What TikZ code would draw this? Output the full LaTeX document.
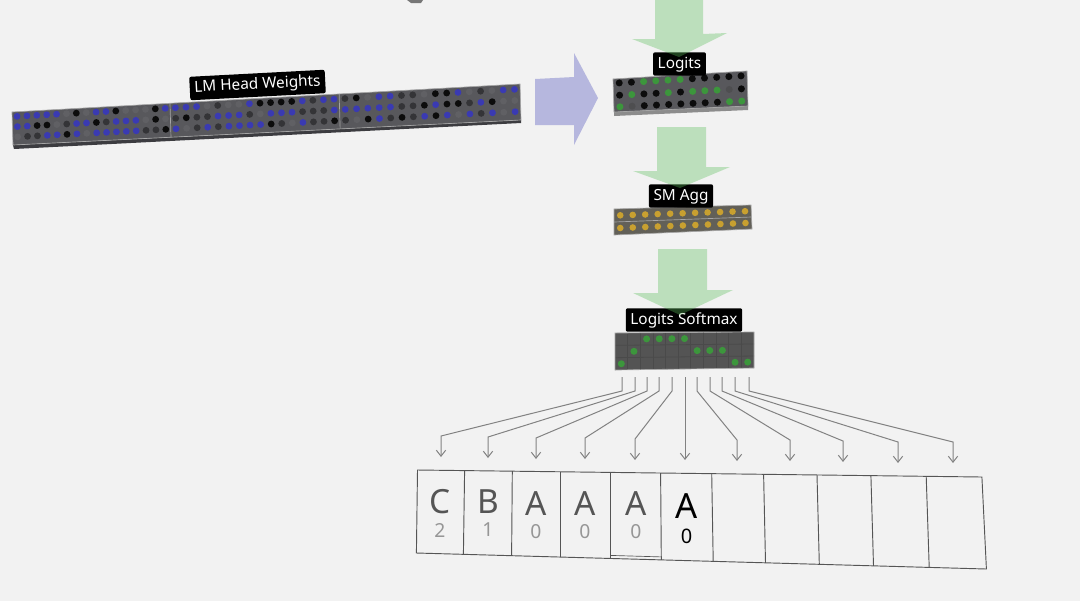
\documentclass[tikz,border=0pt]{standalone}
\usepackage{fontspec}
\setmainfont{Noto Sans}
\usetikzlibrary{arrows.meta,calc}
\definecolor{bg}{RGB}{242,242,242}
\definecolor{arrowgreen}{RGB}{90,190,90}
\definecolor{arrowblue}{RGB}{182,183,222}
\definecolor{matgray}{RGB}{88,88,92}
\definecolor{matside}{RGB}{60,60,64}
\definecolor{edgecol}{RGB}{165,165,165}
\definecolor{dotB}{RGB}{58,58,178}
\definecolor{dotK}{RGB}{12,12,12}
\definecolor{dotD}{RGB}{52,52,55}
\definecolor{dotM}{RGB}{96,96,100}
\definecolor{dotG}{RGB}{60,150,60}
\definecolor{dotX}{RGB}{78,78,80}
\definecolor{dotY}{RGB}{200,160,48}
\definecolor{aggfill}{RGB}{98,96,88}
\definecolor{smfill}{RGB}{84,84,84}
\definecolor{smgrid}{RGB}{74,74,74}
\definecolor{conncol}{RGB}{130,130,130}
\definecolor{boxline}{RGB}{85,85,85}
\definecolor{lettercol}{RGB}{85,85,85}
\definecolor{numcol}{RGB}{150,150,150}
\begin{document}
\begin{tikzpicture}[x=0.75pt,y=-0.75pt,
  lbl/.style={fill=black, text=white, rounded corners=1.5pt, inner xsep=3.5pt, inner ysep=3pt,
    text height=8.8pt, text depth=2.8pt, font=\fontsize{11.5}{13}\selectfont},
  garrow/.style={fill=arrowgreen, fill opacity=0.35},
  conn/.style={draw=conncol, line width=0.75pt, -{Straight Barb[length=4.5pt,width=7pt]}},
  edgeline/.style={draw=edgecol, line width=0.5pt},
  boxedge/.style={draw=boxline, line width=0.7pt},
  letter/.style={text=lettercol, font=\fontsize{25}{30}\selectfont, inner sep=0pt},
  digit/.style={text=numcol, font=\fontsize{14.5}{17}\selectfont, inner sep=0pt}
]
\fill[bg] (0,0) rectangle (1080,601);
\useasboundingbox (0,0) rectangle (1080,601);

% small cut-off shape at the top
\fill[black!65, opacity=0.8] (407,0) -- (423,0) -- (421,3) -- (411,3) -- cycle;

% ---------- LM Head Weights bar ----------
\coordinate (lmTL) at (12,112);
\coordinate (lmTR) at (520,84);
\coordinate (lmBR) at (521,120);
\coordinate (lmBL) at (13,145);
\fill[matside] (lmBL) -- (lmBR) -- ($(lmBR)+(0,3)$) -- ($(lmBL)+(1,4)$) -- cycle;
\fill[matgray] (lmTL) -- (lmTR) -- (lmBR) -- (lmBL) -- cycle;
\pgfmathsetseed{11}
\foreach \ua/\ub in {0/0.311, 0.311/0.644, 0.644/1} {
  \foreach \c in {0,...,15} {
    \foreach \v in {0.14,0.45,0.76} {
      \pgfmathsetmacro\u{\ua+(\c+0.5)/16*(\ub-\ua)}
      \pgfmathrandominteger{\k}{0}{9}
      \ifcase\k \def\dc{dotB}\or\def\dc{dotB}\or\def\dc{dotB}\or\def\dc{dotB}\or\def\dc{dotK}\or\def\dc{dotK}\or\def\dc{dotD}\or\def\dc{dotD}\or\def\dc{dotM}\else\def\dc{dotM}\fi
      \fill[\dc] ($($(lmTL)!\u!(lmTR)$)!\v!($(lmBL)!\u!(lmBR)$)$) circle (3.4);
    }
  }
}
\draw[edgeline] ($(lmTL)!0.311!(lmTR)$) -- ($(lmBL)!0.311!(lmBR)$);
\draw[edgeline] ($(lmTL)!0.644!(lmTR)$) -- ($(lmBL)!0.644!(lmBR)$);
\draw[edgeline] (lmTL) -- (lmTR) -- (lmBR) -- (lmBL) -- cycle;
\node[lbl, rotate=3] (lmlabel) at (257.5,85) {LM Head Weights};

% ---------- blue arrow ----------
\fill[arrowblue] (535,79) -- (574,77) -- (574,53) -- (598,98) -- (574,145) -- (574,125) -- (535,125) -- cycle;

% ---------- Logits matrix ----------
\coordinate (lgTL) at (613,79);
\coordinate (lgTR) at (747,71);
\coordinate (lgBR) at (748,106);
\coordinate (lgBL) at (614,112);
\fill[black!45] (lgBL) -- (lgBR) -- ($(lgBR)+(0,4)$) -- ($(lgBL)+(0,4)$) -- cycle;
\fill[matgray] (lgTL) -- (lgTR) -- (lgBR) -- (lgBL) -- cycle;
\foreach \v/\row in {0.13/{K,K,G,G,G,G,K,K,K,K,K}, 0.5/{K,G,K,K,G,K,G,G,G,X,K}, 0.85/{G,X,K,K,K,K,K,K,K,G,G}} {
  \foreach \col [count=\c from 0] in \row {
    \pgfmathsetmacro\u{(\c+0.5)/11}
    \fill[dot\col] ($($(lgTL)!\u!(lgTR)$)!\v!($(lgBL)!\u!(lgBR)$)$) circle (3.5);
  }
}
\draw[edgeline] (lgTL) -- (lgTR) -- (lgBR) -- (lgBL) -- cycle;
\node[lbl] (logitslabel) at (679.5,64) {Logits};
\fill[garrow] (655,0) -- (703,0) -- (703,34) -- (727,33) -- (679,57) -- (632,39) -- (655,39) -- cycle;

% ---------- SM Agg ----------
\coordinate (agTL) at (614,209);
\coordinate (agTR) at (751,205);
\coordinate (agBR) at (752,229);
\coordinate (agBL) at (614,235);
\fill[aggfill] (agTL) -- (agTR) -- (agBR) -- (agBL) -- cycle;
\draw[edgeline] ($(agTL)!0.5!(agBL)$) -- ($(agTR)!0.5!(agBR)$);
\foreach \v in {0.25,0.74} {
  \foreach \c in {0,...,10} {
    \pgfmathsetmacro\u{(\c+0.5)/11}
    \fill[dotY] ($($(agTL)!\u!(agTR)$)!\v!($(agBL)!\u!(agBR)$)$) circle (3.3);
  }
}
\draw[edgeline] (agTL) -- (agTR) -- (agBR) -- (agBL) -- cycle;
\node[lbl] (smagglabel) at (681,196) {SM Agg};
\fill[garrow] (657,127) -- (706,127) -- (706,167) -- (730,167) -- (680,188) -- (633,171) -- (657,171) -- cycle;

% ---------- Logits Softmax ----------
\coordinate (smTL) at (615,333);
\coordinate (smTR) at (754,332);
\coordinate (smBR) at (754,368);
\coordinate (smBL) at (615,370);
\fill[smfill] (smTL) -- (smTR) -- (smBR) -- (smBL) -- cycle;
\foreach \c in {1,...,10} {
  \pgfmathsetmacro\u{\c/11}
  \draw[smgrid, line width=0.6pt] ($(smTL)!\u!(smTR)$) -- ($(smBL)!\u!(smBR)$);
}
\foreach \v in {0.333,0.667} {
  \draw[smgrid, line width=0.6pt] ($(smTL)!\v!(smBL)$) -- ($(smTR)!\v!(smBR)$);
}
\foreach \c/\r in {2/0,3/0,4/0,5/0,1/1,6/1,7/1,8/1,0/2,9/2,10/2} {
  \pgfmathsetmacro\u{(\c+0.5)/11}
  \pgfmathsetmacro\v{(\r+0.5)/3}
  \fill[dotG] ($($(smTL)!\u!(smTR)$)!\v!($(smBL)!\u!(smBR)$)$) circle (3.5);
}
\draw[edgeline] (smTL) -- (smTR) -- (smBR) -- (smBL) -- cycle;
\node[lbl] (softmaxlabel) at (684,320) {Logits Softmax};
\fill[garrow] (658,249) -- (707,249) -- (707,290) -- (733,290) -- (680,315) -- (633,293) -- (658,293) -- cycle;

% ---------- connectors ----------
\foreach \i/\xs/\xe/\ye in {0/622/441/457, 1/635/488/458, 2/647/536/459, 3/659/585/459,
  4/672/635/460, 5/685/685/460, 6/697/737/461, 7/710/790/461, 8/722/843/462, 9/735/898/463, 10/749/953/463} {
  \coordinate (s\i) at (\xs,377);
  \coordinate (e\i) at (\xe,\ye);
  \draw[conn] (s\i) -- ++(0,14) -- ($(e\i)+(0,-21)$) -- (e\i);
}

% ---------- token boxes ----------
\foreach \i/\xt/\yt/\xb/\yb in {0/417.5/470.0/416.4/553.0, 1/464.6/470.6/463.4/554.3, 2/512.3/471.2/511.6/555.7,
  3/560.5/471.8/560.5/557.0, 4/610.5/472.4/610.5/558.4, 5/660.6/473.0/661.3/559.9, 6/711.7/473.6/713.2/561.3,
  7/763.6/474.3/765.5/562.8, 8/817.0/475.0/819.3/564.3, 9/870.9/475.6/873.5/565.8, 10/926.2/476.3/929.2/567.4,
  11/981.9/477.0/986.4/569.0} {
  \coordinate (t\i) at (\xt,\yt);
  \coordinate (b\i) at (\xb,\yb);
}
\draw[boxedge] (t0) -- (t11) -- (b11) -- (b0) -- cycle;
\foreach \i in {1,...,10} { \draw[boxedge] (t\i) -- (b\i); }
\draw[boxline, line width=0.5pt] ($(b4)+(0,-3)$) -- ($(b5)+(0,-3)$);

\node[letter] (l0) at (440,502) {C};
\node[digit] (n0) at (440,530) {2};
\node[letter] (l1) at (488,502) {B};
\node[digit] (n1) at (488,530) {1};
\node[letter] (l2) at (536,504) {A};
\node[digit] (n2) at (536,532) {0};
\node[letter] (l3) at (585,504) {A};
\node[digit] (n3) at (585,532) {0};
\node[letter] (l4) at (636,504) {A};
\node[digit] (n4) at (636,532) {0};
\node[letter, text=black, font=\fontsize{26}{30}\selectfont] (l5) at (686.5,506) {A};
\node[digit, text=black, font=\fontsize{15}{18}\selectfont] (n5) at (686.5,536.5) {0};
\end{tikzpicture}
\end{document}
